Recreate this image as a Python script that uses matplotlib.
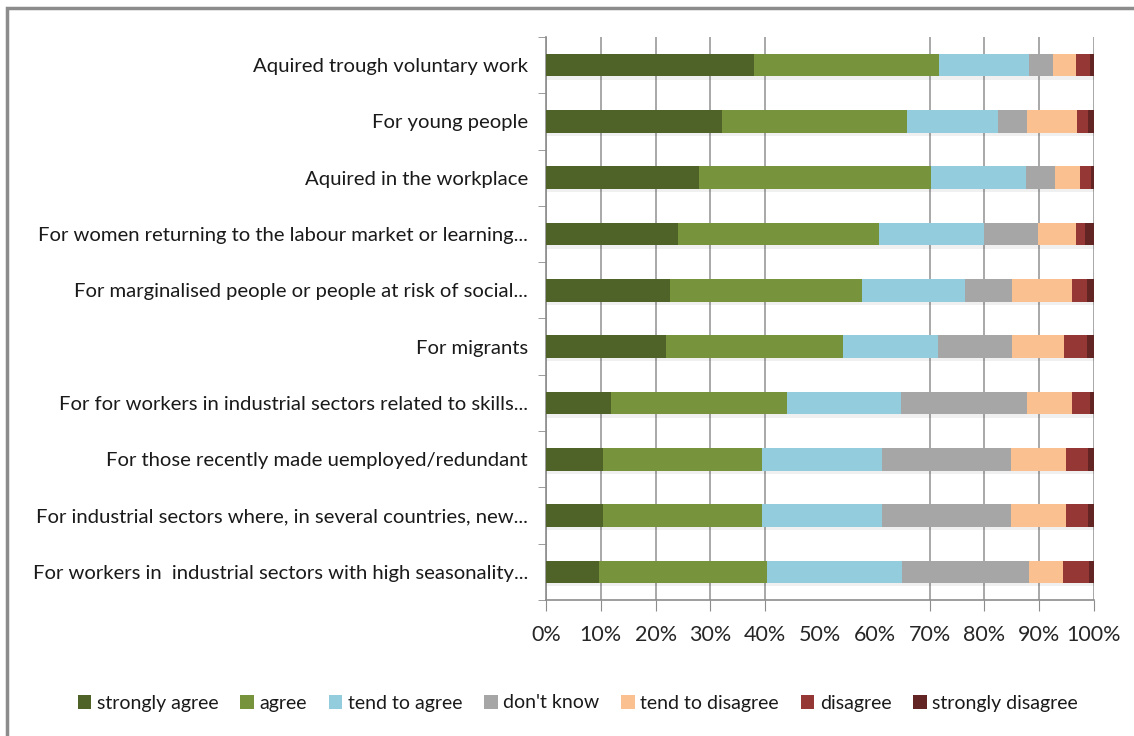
import numpy as np
import matplotlib
matplotlib.use('Agg')
import matplotlib.pyplot as plt
from matplotlib.patches import Rectangle

plt.rcParams['font.family'] = ['Lato', 'DejaVu Sans']

categories = [
    'Aquired trough voluntary work',
    'For young people',
    'Aquired in the workplace',
    'For women returning to the labour market or learning...',
    'For marginalised people or people at risk of social...',
    'For migrants',
    'For for workers in industrial sectors related to skills...',
    'For those recently made uemployed/redundant',
    'For industrial sectors where, in several countries, new...',
    'For workers in  industrial sectors with high seasonality...',
]

series_names = ['strongly agree', 'agree', 'tend to agree', "don't know",
                'tend to disagree', 'disagree', 'strongly disagree']

strongly_agree    = [37.9, 32.2, 28.0, 24.1, 22.7, 21.9, 11.9, 10.4, 10.4, 9.6]
agree             = [33.9, 33.7, 42.3, 36.7, 34.9, 32.3, 32.1, 29.0, 29.0, 30.7]
tend_to_agree     = [16.4, 16.5, 17.2, 19.1, 18.8, 17.3, 20.8, 21.9, 21.9, 24.6]
dont_know         = [4.4, 5.3, 5.3, 9.8, 8.7, 13.6, 22.9, 23.6, 23.6, 23.3]
tend_to_disagree  = [4.1, 9.2, 4.7, 7.0, 10.8, 9.5, 8.2, 9.9, 9.9, 6.2]
disagree          = [2.6, 2.0, 2.0, 1.6, 2.9, 4.2, 3.4, 4.1, 4.1, 4.7]
strongly_disagree = [0.7, 1.1, 0.5, 1.7, 1.2, 1.2, 0.7, 1.1, 1.1, 0.9]

colors = ['#4F6228', '#77933C', '#93CDDD', '#A6A6A6', '#FAC090', '#953735', '#632523']

data = np.array([strongly_agree, agree, tend_to_agree, dont_know,
                 tend_to_disagree, disagree, strongly_disagree]) / 100.0
data = data / data.sum(axis=0)  # 100% stacked

fig = plt.figure(figsize=(11.34, 7.36), dpi=100)
ax = fig.add_axes([546/1134, 1 - 600/736, (1094-546)/1134, (600-37)/736])

# outer frame (chart area border, cut off at right/bottom)
fig.patches.append(Rectangle((7/1134, -0.1), 1.2, 1 - 8/736 + 0.1, transform=fig.transFigure,
                             fill=False, edgecolor='#8c8c8c', linewidth=2.5))

y = np.arange(len(categories))
left = np.zeros(len(categories))
for vals, name, c in zip(data, series_names, colors):
    # soft shadow under each bar
    ax.barh(y + 0.06, vals, left=left, height=0.4, color='#000000', alpha=0.06, zorder=2)
    ax.barh(y, vals, left=left, height=0.4, color=c, label=name, zorder=3)
    left += vals

ax.set_ylim(len(categories) - 0.5, -0.5)
ax.set_xlim(0, 1)

major = [0, 0.1, 0.2, 0.3, 0.4, 0.7, 0.8, 0.9, 1.0]
ax.set_xticks(major)
ax.set_xticklabels(['%d%%' % round(v * 100) for v in major])
ax.set_xticks([0.5, 0.6], minor=True)
ax.set_xticklabels(['50%', '60%'], minor=True)
ax.tick_params(axis='x', which='major', length=8, color='#8c8c8c', pad=10, labelsize=15.5, labelcolor='#262626')
ax.tick_params(axis='x', which='minor', length=0, pad=18, labelsize=15.5, labelcolor='#262626')
ax.xaxis.grid(True, which='major', color='#999999', linewidth=1.2, zorder=0)
ax.set_axisbelow(True)

ax.set_yticks(y)
ax.set_yticklabels(categories, fontsize=14.6, color='#1a1a1a')
ax.set_yticks(np.arange(len(categories) + 1) - 0.5, minor=True)
ax.tick_params(axis='y', which='major', length=0, pad=13)
ax.tick_params(axis='y', which='minor', length=6, color='#8c8c8c')

for s in ['top', 'right']:
    ax.spines[s].set_visible(False)
for s in ['left', 'bottom']:
    ax.spines[s].set_color('#8c8c8c')
    ax.spines[s].set_linewidth(1.2)

fig.legend(loc='center', bbox_to_anchor=(578/1134, 1 - 703/736), ncol=7, frameon=False,
           fontsize=14, handlelength=0.7, handleheight=0.7, handletextpad=0.3,
           columnspacing=1.1, labelcolor='#1a1a1a')

fig.savefig('out.png', dpi=100, facecolor='white')
